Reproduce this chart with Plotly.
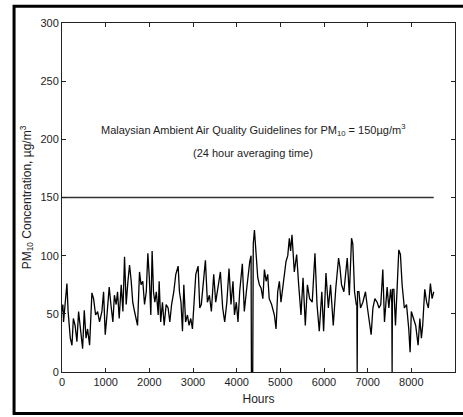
import plotly.graph_objects as go

# Hourly PM10 record (hours since start, concentration in µg/m3)
hours = [
    0, 20, 35, 60, 90, 113, 140, 165, 190, 228, 260, 300, 342, 380, 420, 472,
    510, 550, 586, 632, 685, 723, 770, 815, 860, 914, 952, 990, 1030, 1081,
    1120, 1165, 1200, 1240, 1272, 1310, 1356, 1395, 1432, 1470, 1510, 1547,
    1585, 1620, 1661, 1700, 1730, 1775, 1810, 1850, 1890, 1930, 1966, 2000,
    2034, 2064, 2095, 2126, 2160, 2203, 2225, 2260, 2301, 2340, 2385, 2430,
    2469, 2510, 2560, 2606, 2660, 2690, 2725, 2759, 2790, 2830, 2873, 2910,
    2949, 2987, 3025, 3064, 3117, 3155, 3190, 3231, 3284, 3330, 3375, 3421,
    3474, 3520, 3573, 3627, 3680, 3726, 3775, 3825, 3870, 3916, 3950, 3992,
    4030, 4069, 4130, 4175, 4222, 4260, 4300, 4330, 4338, 4368, 4380, 4407,
    4445, 4483, 4520, 4560, 4600, 4635, 4675, 4711, 4745, 4800, 4864, 4902,
    4940, 4978, 5015, 5050, 5092, 5130, 5170, 5206, 5235, 5267, 5320, 5374,
    5420, 5473, 5520, 5572, 5620, 5670, 5730, 5793, 5840, 5892, 5950, 5991,
    6045, 6100, 6150, 6212, 6270, 6334, 6365, 6402, 6455, 6490, 6532, 6580,
    6631, 6660, 6699, 6740, 6752, 6760, 6768, 6800, 6836, 6890, 6950, 6995,
    7042, 7080, 7120, 7165, 7217, 7260, 7300, 7347, 7385, 7446, 7485, 7525,
    7552, 7560, 7568, 7600, 7637, 7675, 7713, 7750, 7789, 7840, 7890, 7941,
    7972, 8000, 8055, 8100, 8155, 8195, 8231, 8260, 8307, 8350, 8390, 8437,
    8475, 8513,
]
pm10 = [
    52, 58, 43, 56, 70, 76, 52, 40, 29, 23, 46, 40, 26, 52, 40, 20,
    53, 29, 37, 23, 68, 63, 49, 52, 43, 52, 69, 32, 49, 73,
    58, 43, 66, 58, 69, 46, 75, 52, 99, 58, 78, 92,
    78, 60, 52, 43, 40, 86, 75, 78, 58, 69, 102, 81,
    49, 104, 69, 60, 69, 49, 78, 43, 60, 40, 58, 55,
    43, 58, 69, 84, 91, 69, 60, 35, 75, 43, 49, 40,
    46, 37, 58, 84, 91, 55, 58, 75, 96, 60, 66, 52,
    84, 60, 75, 86, 55, 43, 60, 89, 58, 78, 49, 60,
    43, 69, 93, 52, 69, 84, 95, 100, 0, 0, 110, 122,
    98, 81, 75, 72, 63, 88, 78, 84, 63, 58, 49, 37,
    69, 78, 60, 70, 81, 95, 100, 115, 104, 118, 86, 101,
    75, 49, 81, 40, 75, 63, 60, 102, 58, 35, 69, 35,
    85, 55, 75, 40, 72, 98, 90, 75, 69, 86, 98, 66,
    115, 110, 69, 58, 58, 0, 69, 69, 55, 60, 69, 55,
    43, 32, 55, 63, 60, 55, 58, 88, 43, 73, 55, 71,
    60, 0, 71, 71, 40, 75, 105, 101, 75, 55, 58, 37,
    17, 52, 46, 40, 23, 46, 29, 40, 71, 60, 55, 76,
    63, 69,
]

# 24-hour guideline level
guide_hours = [0, 8513]
guide_level = [150, 150]

x_ticks = [0, 1000, 2000, 3000, 4000, 5000, 6000, 7000, 8000, 9000]
y_ticks = [0, 50, 100, 150, 200, 250, 300]

FONT = "Liberation Sans, Arial, sans-serif"
INK = "#1c1c24"

fig = go.Figure()
fig.add_trace(go.Scatter(
    x=guide_hours, y=guide_level, mode="lines",
    line=dict(color="#333333", width=1.5), hoverinfo="skip",
))
fig.add_trace(go.Scatter(
    x=hours, y=pm10, mode="lines",
    line=dict(color="black", width=1.3),
))

axis_common = dict(
    showgrid=False, zeroline=False, showline=True, linecolor="#222222",
    linewidth=1, mirror="ticks", ticks="inside", ticklen=4,
    tickcolor="#222222", tickfont=dict(family=FONT, size=11, color=INK),
)
fig.update_xaxes(range=[0, 9000], tickvals=x_ticks, **axis_common,
                 title=dict(text="Hours", font=dict(family=FONT, size=12, color=INK),
                            standoff=7))
fig.update_yaxes(range=[0, 300], tickvals=y_ticks, **axis_common,
                 title=dict(text="PM<sub>10</sub> Concentration, µg/m<sup>3</sup>",
                            font=dict(family=FONT, size=12, color=INK), standoff=6))

fig.add_annotation(
    x=4363, y=208, xref="x", yref="y", showarrow=False,
    text="Malaysian Ambient Air Quality Guidelines for PM<sub>10</sub> = 150µg/m<sup>3</sup>",
    font=dict(family=FONT, size=11, color=INK),
)
fig.add_annotation(
    x=4363, y=188, xref="x", yref="y", showarrow=False,
    text="(24 hour averaging time)",
    font=dict(family=FONT, size=11, color=INK),
)

# outer frame (open on the right edge)
fig.add_shape(type="rect", xref="paper", yref="paper",
              x0=-0.122, x1=1.06, y0=-0.119, y1=1.048,
              line=dict(color="black", width=3), fillcolor="rgba(0,0,0,0)")

fig.update_layout(
    width=463, height=417,
    margin=dict(l=62, r=8, t=23, b=45),
    paper_bgcolor="white", plot_bgcolor="white",
    showlegend=False,
)

fig.write_html("out.html")
